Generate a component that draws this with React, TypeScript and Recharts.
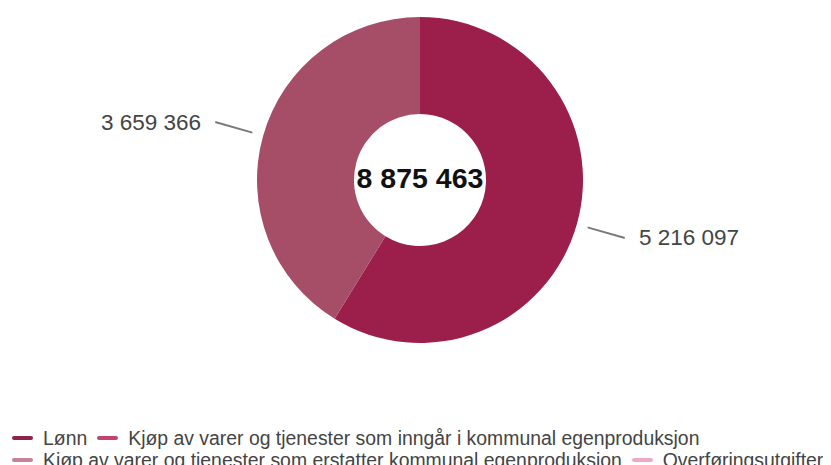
import React from "react";
import { PieChart, Pie, Cell, Legend } from "recharts";

const categories = [
  "Lønn",
  "Kjøp av varer og tjenester som inngår i kommunal egenproduksjon",
  "Kjøp av varer og tjenester som erstatter kommunal egenproduksjon",
  "Overføringsutgifter",
];
const values = [5216097, 3659366, 0, 0];
const sliceColors = ["#9c1f4b", "#a64e68", "#c7819a", "#f0a9c4"];
const legendColors = ["#8e2447", "#c2436f", "#c7819a", "#f0a9c4"];

const FONT = '"Liberation Sans", Arial, sans-serif';
const RAD = Math.PI / 180;

const fmt = (n: number) => String(n).replace(/\B(?=(\d{3})+(?!\d))/g, " ");

const data = categories
  .map((name, i) => ({ name, value: values[i], color: sliceColors[i] }))
  .filter((d) => d.value > 0);

const total = values.reduce((a, b) => a + b, 0);

const renderLabel = (props: any) => {
  const { cx, cy, midAngle, outerRadius, value } = props;
  const cos = Math.cos(-midAngle * RAD);
  const sin = Math.sin(-midAngle * RAD);
  const r1 = outerRadius + 12;
  const r2 = outerRadius + 49;
  const x1 = cx + r1 * cos;
  const y1 = cy + r1 * sin;
  const x2 = cx + r2 * cos;
  const y2 = cy + r2 * sin;
  const right = cos >= 0;
  return (
    <g>
      <line x1={x1} y1={y1} x2={x2} y2={y2} stroke="#7a7a7a" strokeWidth={2} strokeLinecap="round" />
      <text
        x={x2 + (right ? 15 : -15)}
        y={y2}
        textAnchor={right ? "start" : "end"}
        dominantBaseline="central"
        fill="#444"
        fontSize={22.5}
        fontFamily={FONT}
      >
        {fmt(value)}
      </text>
    </g>
  );
};

const LegendContent = () => (
  <div
    style={{
      display: "flex",
      flexWrap: "wrap",
      fontFamily: FONT,
      fontSize: 19.4,
      color: "#444",
      lineHeight: "22px",
      width: 840,
    }}
  >
    {categories.map((c, i) => (
      <div key={c} style={{ display: "flex", alignItems: "center", marginRight: 10 }}>
        <span
          style={{
            display: "inline-block",
            width: 21,
            height: 4,
            borderRadius: 2,
            background: legendColors[i],
            marginRight: 10,
          }}
        />
        <span style={{ whiteSpace: "nowrap" }}>{c}</span>
      </div>
    ))}
  </div>
);

export default function App() {
  return (
    <div style={{ width: 823, height: 457, position: "relative", overflow: "hidden" }}>
      <PieChart width={823} height={457} margin={{ top: 0, right: 0, bottom: 0, left: 0 }}>
        <Pie
          data={data}
          dataKey="value"
          nameKey="name"
          cx={412}
          cy={172}
          outerRadius={163}
          innerRadius={66}
          startAngle={90}
          endAngle={-270}
          stroke="none"
          label={renderLabel}
          labelLine={false}
          isAnimationActive={false}
        >
          {data.map((d) => (
            <Cell key={d.name} fill={d.color} />
          ))}
        </Pie>
        <text
          x={412}
          y={170}
          textAnchor="middle"
          dominantBaseline="central"
          fontSize={28.5}
          fontWeight="bold"
          fill="#111"
          fontFamily={FONT}
        >
          {fmt(total)}
        </text>
        <Legend
          content={<LegendContent />}
          wrapperStyle={{ left: 4, top: 419, width: 840 }}
        />
      </PieChart>
    </div>
  );
}
